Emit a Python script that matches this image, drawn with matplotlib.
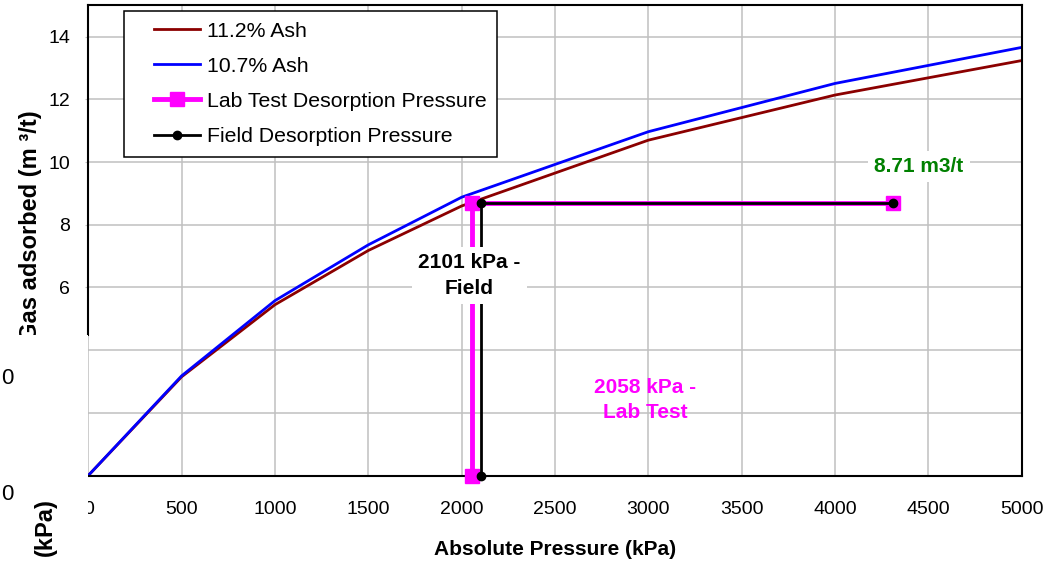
import matplotlib
matplotlib.use("Agg")
import matplotlib.pyplot as plt
from matplotlib.lines import Line2D
from matplotlib.legend_handler import HandlerLine2D
from matplotlib.patches import Rectangle

plt.rcParams['font.family'] = ['Liberation Sans', 'DejaVu Sans']

# ---- data ----
pressure = [0, 500, 1000, 1500, 2000, 3000, 4000, 5000]
ash_112 = [0, 3.15, 5.45, 7.18, 8.6, 10.7, 12.14, 13.24]
ash_107 = [0, 3.18, 5.58, 7.36, 8.88, 10.97, 12.51, 13.66]

lab_x = [2058, 2058, 4310]
lab_y = [0, 8.71, 8.71]
field_x = [2101, 2101, 4310]
field_y = [0, 8.71, 8.71]

series_labels = ["11.2% Ash", "10.7% Ash", "Lab Test Desorption Pressure", "Field Desorption Pressure"]
x_ticks = [0, 500, 1000, 1500, 2000, 2500, 3000, 3500, 4000, 4500, 5000]
y_ticks = [0, 2, 4, 6, 8, 10, 12, 14]

W, H = 1058, 562
fig = plt.figure(figsize=(W / 100, H / 100), dpi=100)
ax_l, ax_r, ax_t, ax_b = 88.3, 1021.7, 5.4, 475.5
ax = fig.add_axes([ax_l / W, (H - ax_b) / H, (ax_r - ax_l) / W, (ax_b - ax_t) / H])

ax.set_xlim(0, 5000)
ax.set_ylim(0, 15)
ax.set_xticks(x_ticks)
ax.set_yticks(y_ticks)
ax.set_axisbelow(True)
ax.grid(True, color='#c0c0c0', linewidth=1.1)

l1, = ax.plot(pressure, ash_112, color='#8b0000', lw=2.0)
l2, = ax.plot(pressure, ash_107, color='#0000ff', lw=2.0)
l3, = ax.plot(lab_x, lab_y, color='#ff00ff', lw=3.5, marker='s', markersize=10,
              solid_joinstyle='miter', clip_on=False, zorder=3)
l4, = ax.plot(field_x, field_y, color='black', lw=2.0, marker='o', markersize=6,
              clip_on=False, zorder=3.1)

for s in ax.spines.values():
    s.set_linewidth(1.5)
    s.set_color('black')
ax.spines['left'].set_bounds(4.48, 15)

ax.tick_params(axis='x', length=0, pad=18.5, labelsize=14)
ax.tick_params(axis='y', length=2.2, pad=11, labelsize=14, color='#c0c0c0')

ax.set_xlabel("Absolute Pressure (kPa)", fontsize=15, fontweight='bold')
ax.xaxis.set_label_coords(0.5, -0.137)
ax.set_ylabel("Gas adsorbed (m ³/t)", fontsize=17, fontweight='bold')
ax.yaxis.set_label_coords(-0.050, 0.532)


class ShiftedLine(HandlerLine2D):
    def __init__(self, shift, **kw):
        super().__init__(**kw)
        self.shift = shift

    def create_artists(self, legend, orig_handle, xdescent, ydescent, width, height, fontsize, trans):
        return super().create_artists(legend, orig_handle, xdescent - self.shift, ydescent,
                                      width - self.shift, height, fontsize, trans)


leg = ax.legend([l1, l2, l3, l4], series_labels, loc='upper left',
                bbox_to_anchor=((124 - ax_l) / (ax_r - ax_l), (ax_b - 11) / (ax_b - ax_t)),
                borderaxespad=0, fontsize=15.3, fancybox=False, edgecolor='black', framealpha=1,
                handlelength=3.08, handletextpad=0.33, borderpad=0.5, labelspacing=0.76,
                handler_map={Line2D: ShiftedLine(14.0)})
leg.get_frame().set_linewidth(1.1)
leg.set_zorder(5)

ax.text(2042, 6.38, "2101 kPa -\nField", ha='center', va='center', fontsize=15,
        fontweight='bold', color='black', linespacing=1.45,
        bbox=dict(boxstyle='square,pad=0.3', fc='white', ec='none'), zorder=4)
ax.text(2982, 2.41, "2058 kPa -\nLab Test", ha='center', va='center', fontsize=15,
        fontweight='bold', color='#ff00ff', linespacing=1.45, zorder=4)
ax.text(4450, 9.86, "8.71 m3/t", ha='center', va='center', fontsize=15,
        fontweight='bold', color='#008000',
        bbox=dict(boxstyle='square,pad=0.3', fc='white', ec='none'), zorder=4)

# overlapping layer artifact in the lower-left corner
rect = Rectangle((0, 0), 88 / W, (H - 335) / H, transform=fig.transFigure,
                 fc='white', ec='none', zorder=5)
fig.add_artist(rect)
fig.text(1 / W, 1 - 378 / H, "0", ha='left', va='center', fontsize=16, zorder=6)
fig.text(1 / W, 1 - 495 / H, "0", ha='left', va='center', fontsize=16, zorder=6)
fig.text(45 / W, 1 - 527 / H, "(kPa)", ha='center', va='center', rotation=90,
         fontsize=17, fontweight='bold', zorder=6)

fig.savefig("out.png", dpi=100)
